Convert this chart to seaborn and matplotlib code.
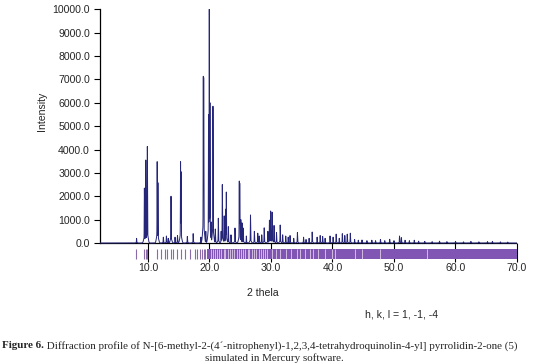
import matplotlib
matplotlib.use('Agg')
import matplotlib.pyplot as plt
import numpy as np
import seaborn as sns

# ── data ─────────────────────────────────────────────────────
peak_pos = [8.15, 9.42, 9.65, 9.90, 11.50, 11.62, 12.50, 13.00, 13.30, 13.75,
            14.40, 14.80, 15.30, 15.38, 16.40, 17.35, 18.60, 19.00, 19.06, 19.40,
            19.85, 19.97, 20.08, 20.30, 20.57, 20.95, 21.44, 21.90, 22.09, 22.40,
            22.65, 22.74, 23.07, 23.50, 24.15, 24.85, 24.92, 25.10, 25.30, 25.50,
            26.00, 26.67, 27.30, 27.85, 28.10, 28.50, 28.90, 29.50, 29.75, 29.95,
            30.20, 30.50, 30.90, 31.50, 31.90, 32.40, 32.80, 33.10, 33.70, 34.30,
            35.30, 35.70, 36.20, 36.70, 37.50, 38.00, 38.40, 38.80, 39.60, 40.10,
            40.60, 41.10, 41.60, 42.00, 42.40, 42.90, 43.60, 44.20, 44.80, 45.60,
            46.40, 47.00, 47.80, 48.50, 49.30, 50.00, 50.90, 51.20, 51.80, 52.50,
            53.30, 54.00, 55.00, 56.20, 57.40, 58.60, 60.00, 61.30, 62.50, 63.80,
            65.20, 66.00, 67.30, 68.50]
peak_int = [200, 2350, 3550, 4130, 3480, 2580, 250, 300, 200, 2000,
            250, 320, 3480, 3050, 280, 400, 250, 7130, 7080, 500,
            5500, 10000, 6000, 900, 5850, 600, 1060, 500, 2500, 1160,
            1450, 2180, 700, 350, 640, 2650, 2560, 1000, 860, 640,
            300, 1200, 500, 420, 300, 350, 650, 500, 980, 1370,
            1320, 750, 450, 770, 350, 300, 250, 320, 200, 450,
            250, 150, 200, 470, 250, 320, 280, 200, 300, 250,
            380, 200, 400, 320, 380, 420, 150, 120, 130, 100,
            120, 100, 150, 100, 160, 100, 300, 230, 120, 100,
            120, 80, 70, 60, 80, 60, 70, 50, 70, 50,
            60, 70, 50, 40]

# reflection (h,k,l) markers
hkl_lines = [8.1, 9.4, 9.65, 9.9, 11.5, 12.2, 12.7, 13.1, 13.7, 14.1,
             14.8, 15.3, 16.0, 16.8, 17.6, 17.9, 18.4, 18.8, 19.05, 19.3]
hkl_band = [19.6, 70.0]
hkl_gaps = [20.2, 20.5, 20.9, 21.2, 21.6, 21.9, 22.3, 22.6, 23.0, 23.3,
            23.7, 24.0, 24.4, 24.8, 25.1, 25.5, 25.8, 26.2, 26.5, 26.9,
            27.3, 27.6, 28.0, 28.3, 28.7, 29.0, 29.4, 30.1, 30.9, 31.4,
            32.5, 33.3, 34.2, 34.7, 35.5, 36.3, 36.9, 37.7, 38.8, 39.9,
            40.4, 43.7, 44.8, 47.8, 55.3]

x_ticks = [10, 20, 30, 40, 50, 60, 70]
y_ticks = [0, 1000, 2000, 3000, 4000, 5000, 6000, 7000, 8000, 9000, 10000]

# ── simulated profile from the peak list ──────────────────────
tth = np.arange(2.2, 70.0, 0.005)
prof = np.zeros_like(tth)
k = 4 * np.log(2)
for p, h in zip(peak_pos, peak_int):
    d = tth - p
    shape = h * (0.9 * np.exp(-k * (d / 0.05) ** 2) + 0.1 * np.exp(-k * (d / 0.3) ** 2))
    prof = np.maximum(prof, shape)

sns.set_style('white')
plt.rcParams['font.family'] = ['Liberation Sans', 'DejaVu Sans']

fig = plt.figure(figsize=(5.49, 3.64), dpi=100)
ax = fig.add_axes([0.1821, 0.2802, 0.7596, 0.6951])

sns.lineplot(x=tth, y=prof, ax=ax, color='#25257a', lw=0.7, zorder=3)
ax.axhline(0, color='black', lw=0.9, zorder=2)

# hkl marker bar
bar_lo, bar_hi = -683, -256
ax.vlines(hkl_lines, bar_lo, bar_hi, color='#8a6aa8', lw=0.8, zorder=1)
ax.fill_between(hkl_band, bar_lo, bar_hi, color='#8055b3', lw=0, zorder=1)
ax.vlines(hkl_gaps, bar_lo, bar_hi, color='#f2e6f6', lw=0.5, zorder=1.5)

ax.set_xlim(2.2, 70.0)
ax.set_ylim(-812, 10010)
for s in ['top', 'right', 'bottom']:
    ax.spines[s].set_visible(False)
ax.spines['left'].set_bounds(0, 10000)
ax.spines['left'].set_linewidth(0.9)
ax.spines['left'].set_color('black')

ax.set_yticks(y_ticks)
ax.set_yticklabels([f'{v:.1f}' for v in y_ticks])
ax.set_xticks(x_ticks)
ax.set_xticklabels([f'{v:.1f}' for v in x_ticks])
ax.tick_params(axis='y', direction='out', length=4.3, width=0.8, pad=3,
               labelsize=7.6, left=True, color='black')
ax.tick_params(axis='x', direction='in', length=14, width=0.8, pad=1,
               labelsize=7.6, bottom=True, color='black')

fig.text(0.077, 0.695, 'Intensity', rotation=90, ha='center', va='center', fontsize=7.6)
fig.text(0.479, 0.195, '2 thela', ha='center', va='center', fontsize=7.6)
fig.text(0.732, 0.135, 'h, k, l = 1, -1, -4', ha='center', va='center', fontsize=7.6)

# caption
cap = dict(family=['Liberation Serif', 'DejaVu Serif'], fontsize=7.9)
t = fig.text(0.003, 0.0495, 'Figure 6.', fontweight='bold', va='center', **cap)
fig.text(0.5, 0.0165, 'simulated in Mercury software.', ha='center', va='center', **cap)
ax.annotate(' Diffraction profile of N-[6-methyl-2-(4´-nitrophenyl)-1,2,3,4-'
            'tetrahydroquinolin-4-yl] pyrrolidin-2-one (5)',
            xy=(1, 0.5), xycoords=t, va='center', ha='left',
            annotation_clip=False, **cap)

fig.savefig('out.png', dpi=100)
